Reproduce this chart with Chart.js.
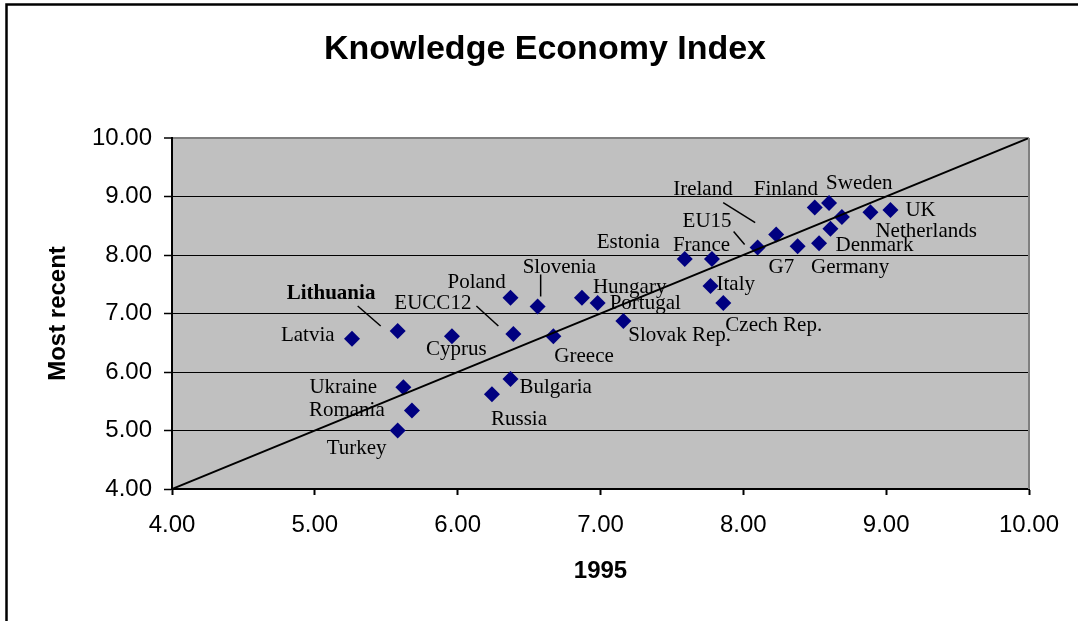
<!DOCTYPE html>
<html>
<head>
<meta charset="utf-8">
<title>Knowledge Economy Index</title>
<script src="https://cdn.jsdelivr.net/npm/chart.js@4.4.1/dist/chart.umd.min.js"></script>
<style>
    html, body { margin: 0; padding: 0; background: #fff; }
    canvas { display: block; }
</style>
</head>
<body>
<canvas id="keiChart" width="1078" height="621"></canvas>
<script>
const countries = ['Latvia', 'Lithuania', 'Cyprus', 'EUCC12', 'Greece', 'Poland', 'Slovenia', 'Hungary',
    'Portugal', 'Ukraine', 'Romania', 'Turkey', 'Bulgaria', 'Russia', 'Slovak Rep.', 'Estonia', 'France',
    'Italy', 'Czech Rep.', 'EU15', 'Ireland', 'G7', 'Germany', 'Denmark', 'Finland', 'Sweden', '',
    'Netherlands', 'UK'];
const index1995 = [5.26, 5.58, 5.96, 6.39, 6.67, 6.37, 6.56, 6.87,
    6.98, 5.62, 5.68, 5.58, 6.37, 6.24, 7.16, 7.59, 7.78,
    7.77, 7.86, 8.10, 8.23, 8.38, 8.53, 8.61, 8.50, 8.60, 8.69,
    8.89, 9.03];
const indexRecent = [6.57, 6.70, 6.61, 6.65, 6.61, 7.27, 7.12, 7.27,
    7.18, 5.74, 5.34, 5.00, 5.88, 5.62, 6.87, 7.93, 7.93,
    7.47, 7.18, 8.13, 8.35, 8.15, 8.20, 8.45, 8.81, 8.89, 8.65,
    8.73, 8.77];
const axisTicks = [4, 5, 6, 7, 8, 9, 10];
const diagonal = [4, 10];
const boldLabels = ['Lithuania'];

// label anchor (left, middle) relative to its marker, in pixels
const labelPlacement = {
    'Latvia': [-71, -3], 'Lithuania': [-111, -37], 'Cyprus': [-26, 13], 'EUCC12': [-119, -30],
    'Greece': [1, 20], 'Poland': [-63, -15], 'Slovenia': [-15, -39], 'Hungary': [11, -10],
    'Portugal': [12, 1], 'Ukraine': [-94, 0], 'Romania': [-103, 0], 'Turkey': [-71, 18],
    'Bulgaria': [9, 8], 'Russia': [-1, 25], 'Slovak Rep.': [5, 14], 'Estonia': [-88, -17],
    'France': [-39, -14], 'Italy': [6, -2], 'Czech Rep.': [2, 23], 'EU15': [-75, -26],
    'Ireland': [-103, -45], 'G7': [-29, 21], 'Germany': [-8, 24], 'Denmark': [5, 17],
    'Finland': [-61, -18], 'Sweden': [-3, -19], 'Netherlands': [5, 19], 'UK': [15, 1]
};
// leader lines relative to the marker: x1, y1, x2, y2
const leaderLines = {
    'Lithuania': [-40, -25, -17, -5],
    'EUCC12': [-37, -28, -15, -8],
    'Slovenia': [3, -32, 3, -10],
    'Ireland': [-53, -32, -21, -12],
    'EU15': [-24, -16, -13, -3]
};

const points = countries.map((c, i) => ({ x: index1995[i], y: indexRecent[i] }));

const decorPlugin = {
    id: 'decor',
    beforeDraw(chart) {
        const { ctx, chartArea: a } = chart;
        ctx.save();
        ctx.fillStyle = '#ffffff';
        ctx.fillRect(0, 0, chart.width, chart.height);
        ctx.fillStyle = '#c0c0c0';
        ctx.fillRect(a.left, a.top, a.right - a.left, a.bottom - a.top);
        ctx.strokeStyle = '#000';
        ctx.lineWidth = 2.5;
        ctx.beginPath();
        ctx.moveTo(6.5, chart.height);
        ctx.lineTo(6.5, 4.5);
        ctx.lineTo(chart.width, 4.5);
        ctx.stroke();
        ctx.restore();
    },
    afterDatasetsDraw(chart) {
        const { ctx, chartArea: a } = chart;
        ctx.save();
        ctx.strokeStyle = '#808080';
        ctx.lineWidth = 2;
        ctx.beginPath();
        ctx.moveTo(a.right, a.top);
        ctx.lineTo(a.right, a.bottom);
        ctx.stroke();

        const meta = chart.getDatasetMeta(1);
        ctx.fillStyle = '#000';
        ctx.strokeStyle = '#000';
        ctx.lineWidth = 1.5;
        ctx.textAlign = 'left';
        ctx.textBaseline = 'middle';
        meta.data.forEach((pt, i) => {
            const name = countries[i];
            if (!name) return;
            const [dx, dy] = labelPlacement[name];
            const weight = boldLabels.includes(name) ? 'bold ' : '';
            ctx.font = weight + '21px "Liberation Serif", "Times New Roman", serif';
            ctx.fillText(name, pt.x + dx, pt.y + dy);
            const lead = leaderLines[name];
            if (lead) {
                ctx.beginPath();
                ctx.moveTo(pt.x + lead[0], pt.y + lead[1]);
                ctx.lineTo(pt.x + lead[2], pt.y + lead[3]);
                ctx.stroke();
            }
        });
        ctx.restore();
    }
};

const tickFont = { family: 'Arial, "Liberation Sans", sans-serif', size: 24 };
const titleFont = { family: 'Arial, "Liberation Sans", sans-serif', size: 24, weight: 'bold' };

const ctx = document.getElementById('keiChart').getContext('2d');
new Chart(ctx, {
    type: 'scatter',
    data: {
        datasets: [{
            label: 'Diagonal',
            data: diagonal.map(v => ({ x: v, y: v })),
            showLine: true,
            borderColor: '#000',
            borderWidth: 2,
            pointRadius: 0,
            order: 0
        }, {
            label: 'Knowledge Economy Index',
            data: points,
            pointStyle: 'rectRot',
            pointRadius: 8,
            backgroundColor: '#000080',
            borderColor: '#000080',
            borderWidth: 0,
            order: 1
        }]
    },
    options: {
        responsive: false,
        animation: false,
        devicePixelRatio: 1,
        layout: { padding: { left: 12, right: 0, top: 0, bottom: 0 } },
        scales: {
            x: {
                type: 'linear',
                min: axisTicks[0],
                max: axisTicks[axisTicks.length - 1],
                afterBuildTicks: scale => { scale.ticks = axisTicks.map(v => ({ value: v })); },
                afterFit: scale => { scale.height = 132; scale.paddingRight = 49; },
                grid: { drawOnChartArea: false, tickLength: 6, tickColor: '#000', tickWidth: 2 },
                border: { color: '#000', width: 2 },
                ticks: {
                    color: '#000', font: tickFont, padding: 16, maxRotation: 0,
                    callback: v => v.toFixed(2)
                },
                title: { display: true, text: '1995', color: '#000', font: titleFont, padding: { top: 0, bottom: 35 } }
            },
            y: {
                type: 'linear',
                min: axisTicks[0],
                max: axisTicks[axisTicks.length - 1],
                afterBuildTicks: scale => { scale.ticks = axisTicks.map(v => ({ value: v })); },
                afterFit: scale => { scale.width = 160; },
                grid: {
                    color: c => c.tick && c.tick.value === 10 ? '#808080' : '#000',
                    lineWidth: c => c.tick && c.tick.value === 10 ? 2 : 1,
                    tickLength: 8, tickColor: '#000', tickWidth: 1.5
                },
                border: { color: '#000', width: 2 },
                ticks: {
                    color: '#000', font: tickFont, padding: 12,
                    callback: v => v.toFixed(2)
                },
                title: { display: true, text: 'Most recent', color: '#000', font: titleFont, padding: { top: 32, bottom: 0 } }
            }
        },
        plugins: {
            legend: { display: false },
            tooltip: { enabled: false },
            title: {
                display: true,
                text: 'Knowledge Economy Index',
                color: '#000',
                font: { family: 'Arial, "Liberation Sans", sans-serif', size: 34, weight: 'bold' },
                padding: { top: 29, bottom: 68.2 }
            }
        }
    },
    plugins: [decorPlugin]
});
</script>
</body>
</html>
